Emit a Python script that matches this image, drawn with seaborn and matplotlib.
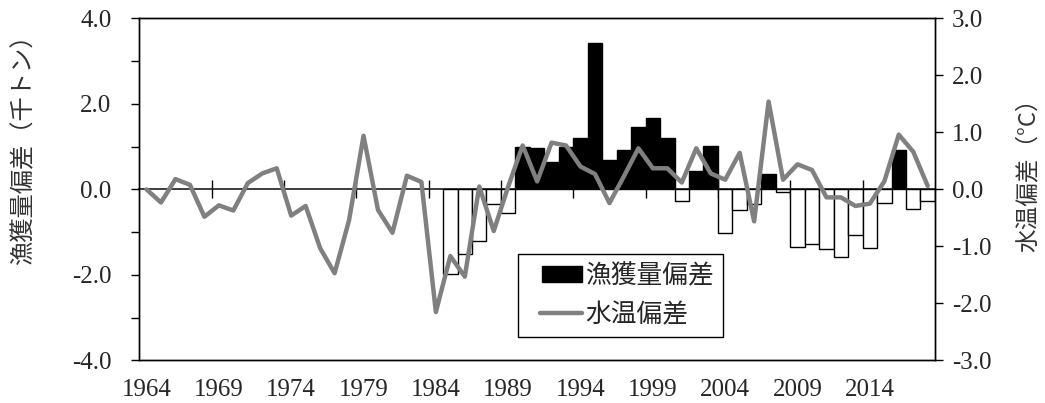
import numpy as np
import pandas as pd
import matplotlib
matplotlib.use("Agg")
import matplotlib.pyplot as plt
from matplotlib.patches import Patch, Rectangle
from matplotlib.lines import Line2D
from matplotlib.legend_handler import HandlerPatch, HandlerLine2D
import seaborn as sns

# Years on the category axis
years = list(range(1964, 2019))

# Water temperature anomaly (deg C), 1964-2018
temp_anom = [0.00, -0.23, 0.18, 0.08, -0.48, -0.28, -0.37, 0.11, 0.28, 0.37,
             -0.46, -0.29, -1.03, -1.47, -0.54, 0.94, -0.36, -0.76, 0.24, 0.13,
             -2.15, -1.17, -1.53, 0.05, -0.73, 0.05, 0.77, 0.14, 0.82, 0.77,
             0.40, 0.27, -0.24, 0.23, 0.72, 0.37, 0.37, 0.12, 0.72, 0.28,
             0.17, 0.64, -0.56, 1.54, 0.17, 0.44, 0.34, -0.14, -0.14, -0.29,
             -0.25, 0.14, 0.96, 0.66, 0.06]

# Catch anomaly (thousand tonnes), 1985-2018
catch_years = list(range(1985, 2019))
catch_anom = [-1.98, -1.51, -1.20, -0.34, -0.56, 1.00, 0.96, 0.63, 1.00, 1.20,
              3.43, 0.69, 0.91, 1.45, 1.68, 1.20, -0.26, 0.44, 1.02, -1.01,
              -0.49, -0.35, 0.36, -0.07, -1.34, -1.27, -1.40, -1.58, -1.07, -1.37,
              -0.31, 0.91, -0.46, -0.28]

label_every = 5
left_ticks = [-4.0, -2.0, 0.0, 2.0, 4.0]
right_ticks = [-3.0, -2.0, -1.0, 0.0, 1.0, 2.0, 3.0]

sns.set_theme(style="white")
plt.rcParams["font.family"] = ["Liberation Serif", "DejaVu Serif"]
jp = ["Noto Sans CJK JP", "DejaVu Sans"]
TICK_FS = 18
LINE_GRAY = "#808080"

fig = plt.figure(figsize=(10.45, 4.03), dpi=100)
ax = fig.add_axes([0.1333, 0.1055, 0.7614, 0.8491])

catch_df = pd.DataFrame({"year": catch_years, "catch": catch_anom})
catch_df["sign"] = np.where(catch_df["catch"] >= 0, "pos", "neg")

sns.barplot(data=catch_df, x="year", y="catch", hue="sign", order=years,
            palette={"pos": "black", "neg": "white"}, dodge=False,
            width=1.0, edgecolor="black", linewidth=1.0, legend=False, ax=ax)

ax.set_xlim(-0.5, len(years) - 0.5)
ax.set_ylim(-4, 4)
ax.set_xlabel("")
ax.set_ylabel("")

# Category labels every 5 years along the bottom edge
pos = np.arange(0, len(years), label_every)
ax.set_xticks(pos)
ax.set_xticklabels([str(years[i]) for i in pos], fontsize=TICK_FS)
ax.tick_params(axis="x", length=0, pad=13.5)

# Left axis: labels every 2.0, tick marks every 1.0
ax.set_yticks(left_ticks)
ax.set_yticklabels([f"{v:.1f}" for v in left_ticks], fontsize=TICK_FS)
ax.set_yticks(np.arange(-4, 4.1, 1.0), minor=True)
ax.tick_params(axis="y", which="both", direction="out", length=6, width=1,
               color="black", left=True, pad=14)

for s in ax.spines.values():
    s.set_color("black")
    s.set_linewidth(1.0)

# Horizontal category axis crossing at zero, with cross ticks between groups
zero_axis = ax.secondary_xaxis(0.5)
zero_axis.set_xticks(np.arange(label_every - 0.5, len(years) - 1, label_every))
zero_axis.set_xticklabels([])
zero_axis.tick_params(direction="inout", length=13, width=1, color="black")
zero_axis.spines["bottom"].set_color("black")
zero_axis.spines["bottom"].set_linewidth(1.0)

# Temperature anomaly on the right axis
ax2 = ax.twinx()
temp_df = pd.DataFrame({"idx": np.arange(len(years)), "temp": temp_anom})
sns.lineplot(data=temp_df, x="idx", y="temp", color=LINE_GRAY, linewidth=3.2,
             ax=ax2)
ax2.set_ylim(-3, 3)
ax2.set_xlim(-0.5, len(years) - 0.5)
ax2.set_ylabel("")
ax2.set_xlabel("")
ax2.set_yticks(right_ticks)
ax2.set_yticklabels([f"{v:.1f}" for v in right_ticks], fontsize=TICK_FS)
ax2.tick_params(axis="y", direction="out", length=6, width=1, color="black",
                right=True, pad=6)
for s in ax2.spines.values():
    s.set_color("black")
    s.set_linewidth(1.0)

# Axis titles
fig.text(0.022, 0.643, "漁獲量偏差（千トン）", rotation=90, ha="center",
         va="center", fontsize=17.5, color="#333333", family=jp)
fig.text(0.984, 0.58, "水温偏差（°C）", rotation=90, ha="center",
         va="center", fontsize=17, color="#333333", family=jp)


# Legend keys sit in the right part of the handle box, leaving a left margin
KEY_FRAC = 0.73


def inset_patch(legend, orig_handle, xdescent, ydescent, width, height, fontsize):
    x0 = -xdescent + width * (1 - KEY_FRAC)
    return Rectangle((x0, -ydescent), width * KEY_FRAC, height)


class InsetLine(HandlerLine2D):
    def get_xdata(self, legend, xdescent, ydescent, width, height, fontsize):
        x0 = -xdescent + width * (1 - KEY_FRAC) - 1.5
        return [x0, -xdescent + width], [x0, -xdescent + width]


bar_key = Patch(facecolor="black", edgecolor="black")
line_key = Line2D([0], [0], color=LINE_GRAY, linewidth=3.2)
leg = ax.legend([bar_key, line_key], ["漁獲量偏差", "水温偏差"],
                handler_map={bar_key: HandlerPatch(patch_func=inset_patch),
                             line_key: InsetLine()},
                loc="lower left", bbox_to_anchor=(0.476, 0.069),
                borderaxespad=0, prop={"family": jp, "size": 18.5},
                frameon=True, fancybox=False, edgecolor="black", framealpha=1,
                handlelength=2.15, handleheight=0.55, handletextpad=0.1,
                labelspacing=0.5, borderpad=0.35)
leg.get_frame().set_linewidth(1.0)
leg.set_zorder(5)
ax.set_zorder(ax2.get_zorder() - 1)
ax.patch.set_visible(True)
ax2.patch.set_visible(False)

fig.savefig("out.png", dpi=100)
